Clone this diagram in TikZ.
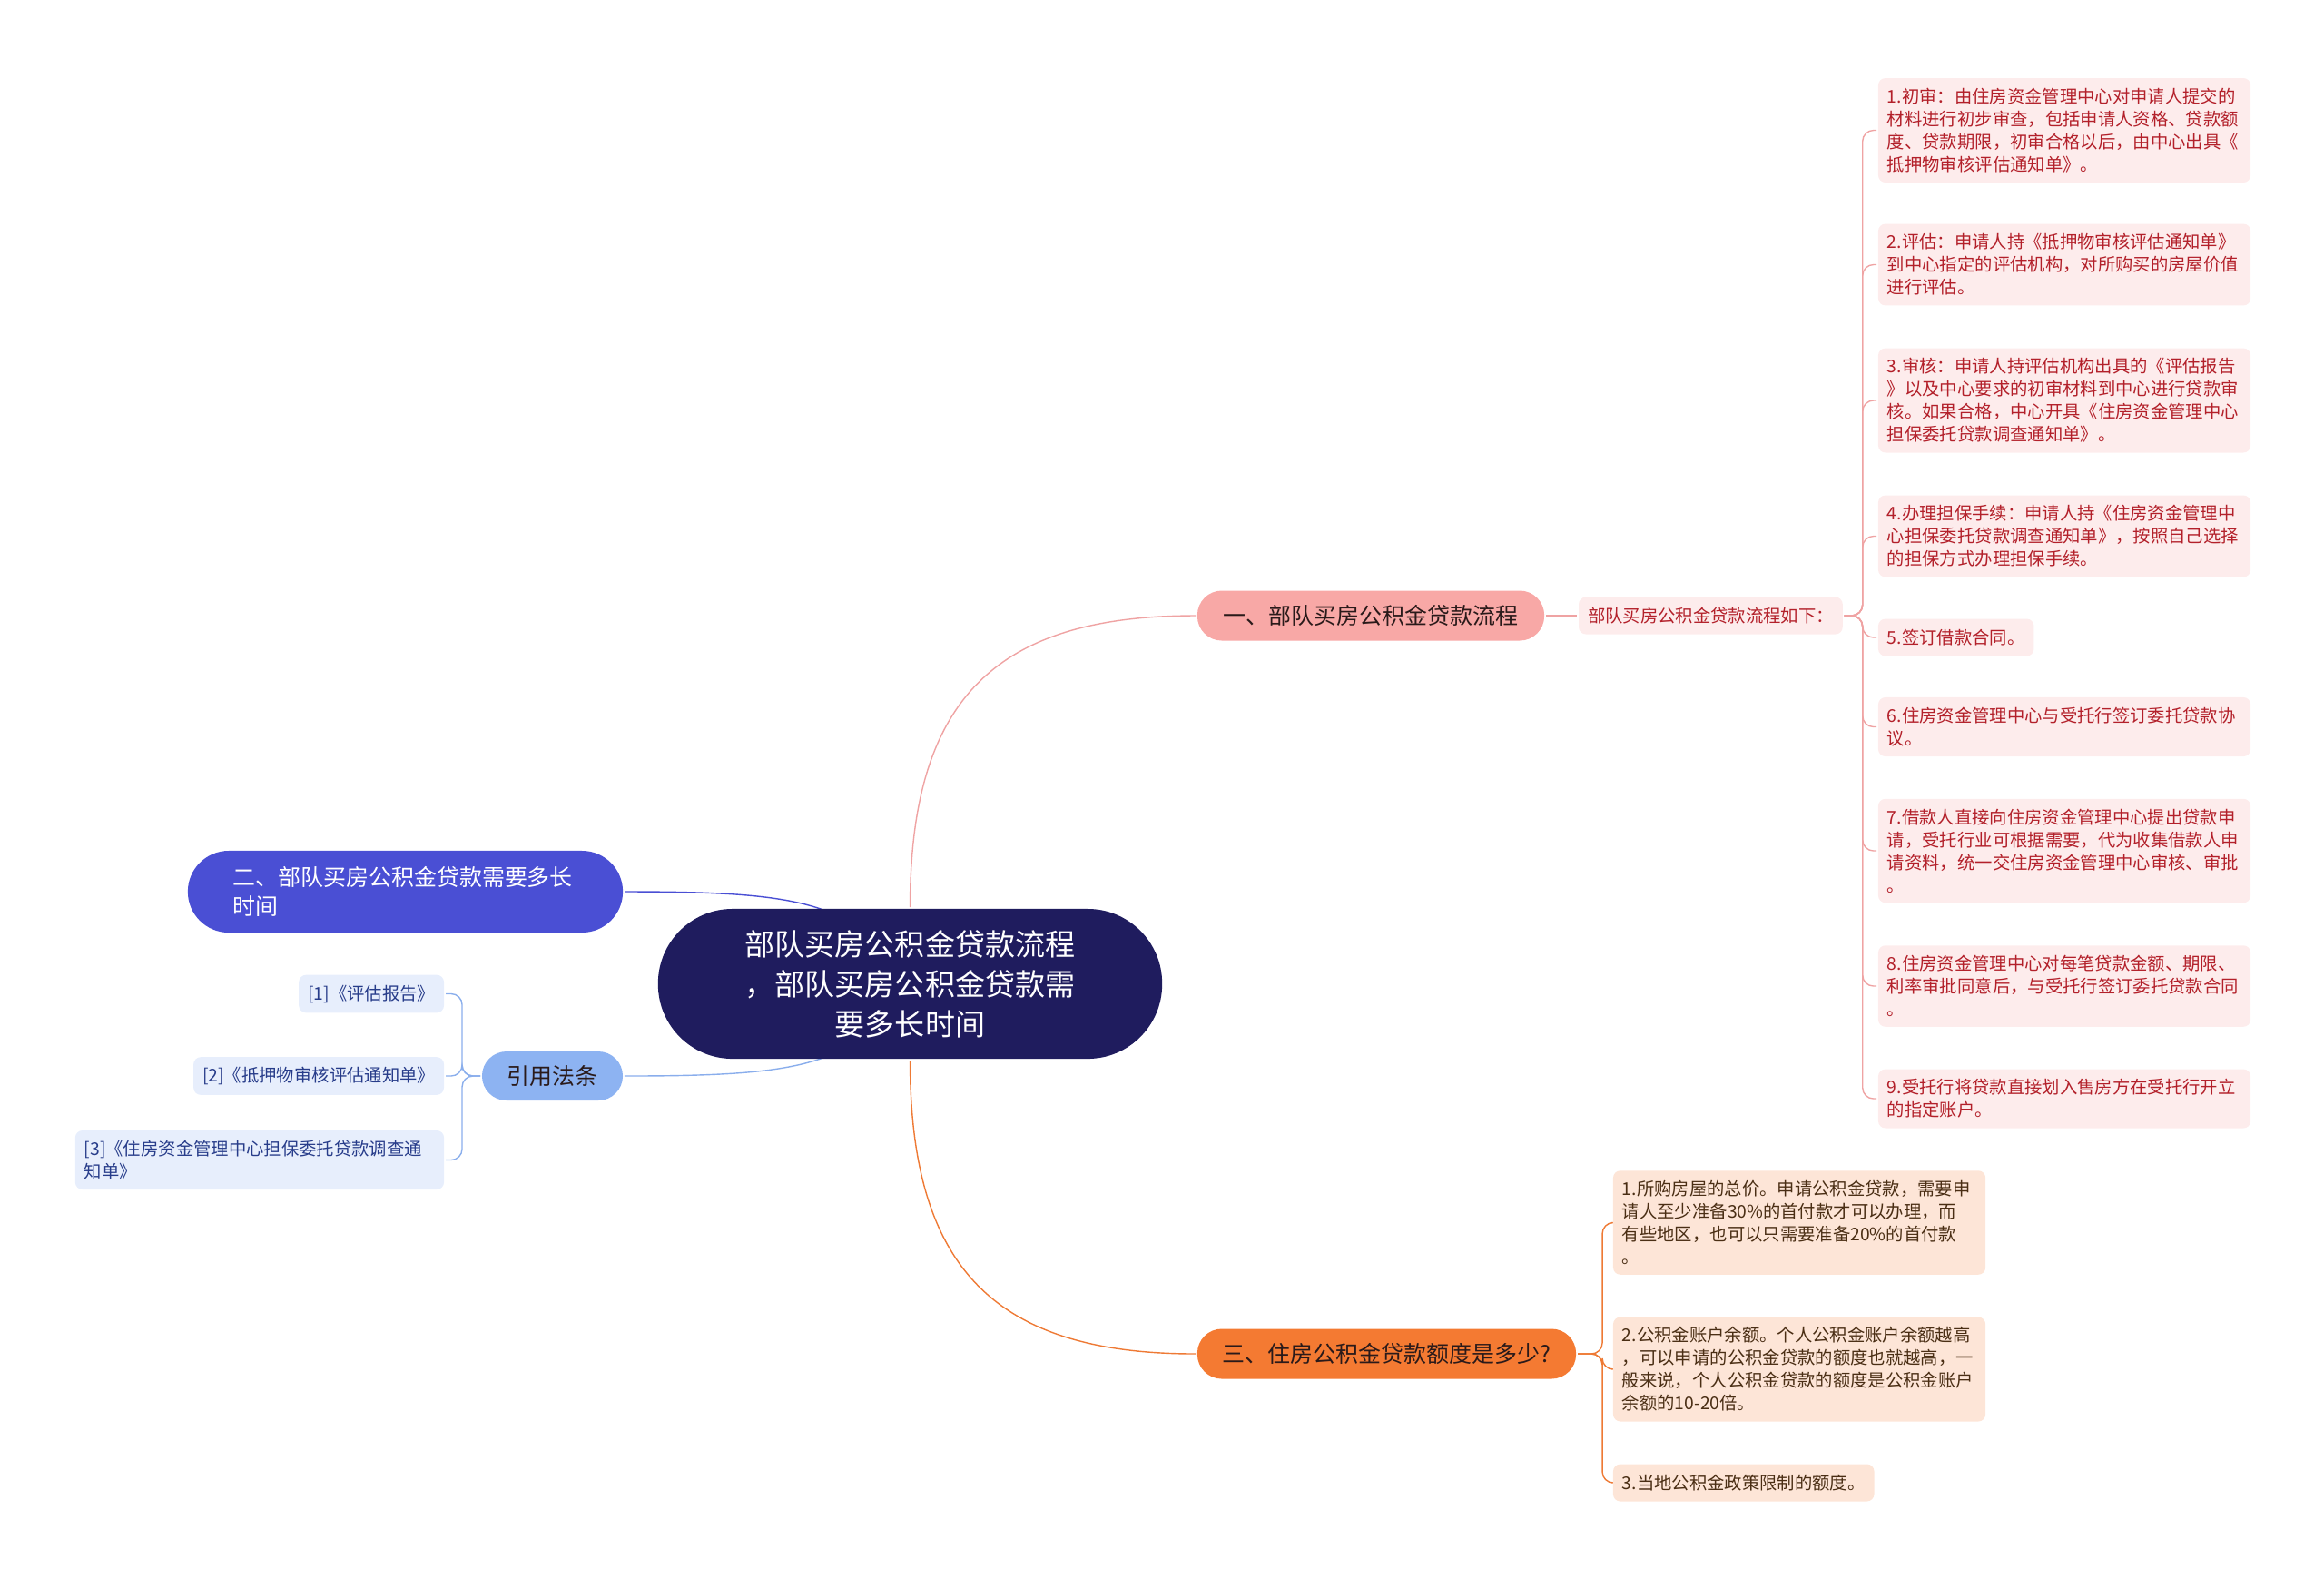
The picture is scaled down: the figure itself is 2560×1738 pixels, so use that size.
\documentclass[tikz,border=0pt]{standalone}
\usepackage{fontspec}
\setmainfont{Noto Sans CJK SC}
\usetikzlibrary{positioning}
\definecolor{navy}{HTML}{1F1C5E}
\definecolor{pinkfill}{HTML}{F8A8A6}
\definecolor{pinkline}{HTML}{EFA3A3}
\definecolor{pinkleaf}{HTML}{FDECEC}
\definecolor{redtext}{HTML}{B3202A}
\definecolor{orangefill}{HTML}{F47A32}
\definecolor{orangeline}{HTML}{EE7A35}
\definecolor{peach}{HTML}{FDE5D7}
\definecolor{browntext}{HTML}{4A2E14}
\definecolor{indigo}{HTML}{4A4FD4}
\definecolor{skyfill}{HTML}{8DB3F2}
\definecolor{skyline}{HTML}{8AAEEC}
\definecolor{iceleaf}{HTML}{E7EEFC}
\definecolor{bluetext}{HTML}{273C8A}
\definecolor{darktext}{HTML}{2A1A1A}
\pgfdeclarelayer{bg}
\pgfsetlayers{bg,main}
\begin{document}
\begin{tikzpicture}[x=0.01cm,y=-0.01cm,line width=1.1pt,
  root/.style={fill=navy,text=white,rounded corners=0.82cm,minimum width=5.55cm,minimum height=1.65cm,inner sep=0pt,align=center,font=\fontsize{9.4}{12.5}\selectfont},
  topic/.style={rounded corners=0.27cm,minimum height=0.55cm,inner sep=0pt,font=\fontsize{7.1}{9.3}\selectfont},
  leaf/.style={rounded corners=0.08cm,inner xsep=0.1cm,inner ysep=0.11cm,align=left,font=\fontsize{5.5}{7.1}\selectfont},
  redleaf/.style={leaf,fill=pinkleaf,text=redtext},
  peachleaf/.style={leaf,fill=peach,text=browntext},
  iceleaf/.style={leaf,fill=iceleaf,text=bluetext},
  wide/.style={text width=3.9cm},
  oneline/.style={minimum height=0.41cm}]
\useasboundingbox (0,0) rectangle (2560,1738);
\node[root] (root) at (1002.5,1083.5) {部队买房公积金贷款流程\\，部队买房公积金贷款需\\要多长时间};
\node[topic,fill=pinkfill,text=darktext,minimum width=3.82cm] (flow) at (1510,678) {一、部队买房公积金贷款流程};
\node[redleaf,oneline,right=0.34cm of flow] (flowsub) {部队买房公积金贷款流程如下：};
\node[redleaf,wide,anchor=west] (fl1) at (2067,143.5) {1.初审：由住房资金管理中心对申请人提交的\\材料进行初步审查，包括申请人资格、贷款额\\度、贷款期限，初审合格以后，由中心出具《\\抵押物审核评估通知单》。};
\node[redleaf,wide,anchor=west] (fl2) at (2067,291.5) {2.评估：申请人持《抵押物审核评估通知单》\\到中心指定的评估机构，对所购买的房屋价值\\进行评估。};
\node[redleaf,wide,anchor=west] (fl3) at (2067,441) {3.审核：申请人持评估机构出具的《评估报告\\》以及中心要求的初审材料到中心进行贷款审\\核。如果合格，中心开具《住房资金管理中心\\担保委托贷款调查通知单》。};
\node[redleaf,wide,anchor=west] (fl4) at (2067,590.5) {4.办理担保手续：申请人持《住房资金管理中\\心担保委托贷款调查通知单》，按照自己选择\\的担保方式办理担保手续。};
\node[redleaf,oneline,anchor=west] (fl5) at (2067,702) {5.签订借款合同。};
\node[redleaf,wide,anchor=west] (fl6) at (2067,800.5) {6.住房资金管理中心与受托行签订委托贷款协\\议。};
\node[redleaf,wide,anchor=west] (fl7) at (2067,937) {7.借款人直接向住房资金管理中心提出贷款申\\请，受托行业可根据需要，代为收集借款人申\\请资料，统一交住房资金管理中心审核、审批\\。};
\node[redleaf,wide,anchor=west] (fl8) at (2067,1086) {8.住房资金管理中心对每笔贷款金额、期限、\\利率审批同意后，与受托行签订委托贷款合同\\。};
\node[redleaf,wide,anchor=west] (fl9) at (2067,1210) {9.受托行将贷款直接划入售房方在受托行开立\\的指定账户。};
\node[topic,fill=orangefill,text=darktext,minimum width=4.17cm] (quota) at (1527.5,1491) {三、住房公积金贷款额度是多少?};
\node[peachleaf,wide,anchor=west] (qt1) at (1775,1346.5) {1.所购房屋的总价。申请公积金贷款，需要申\\请人至少准备30\%的首付款才可以办理，而\\有些地区，也可以只需要准备20\%的首付款\\。};
\node[peachleaf,wide,anchor=west] (qt2) at (1775,1508) {2.公积金账户余额。个人公积金账户余额越高\\，可以申请的公积金贷款的额度也就越高，一\\般来说，个人公积金贷款的额度是公积金账户\\余额的10-20倍。};
\node[peachleaf,oneline,anchor=west] (qt3) at (1775,1633) {3.当地公积金政策限制的额度。};
\node[topic,fill=indigo,text=white,rounded corners=0.45cm,text width=3.8cm,align=left,inner xsep=0.495cm,minimum height=0.9cm] (span) at (446.5,982) {二、部队买房公积金贷款需要多长\\时间};
\node[topic,fill=skyfill,text=darktext,minimum width=1.55cm,minimum height=0.54cm] (laws) at (608.5,1185) {引用法条};
\node[iceleaf,oneline,anchor=east] (ref1) at (491,1094.5) {[1]《评估报告》};
\node[iceleaf,oneline,anchor=east] (ref2) at (491,1185) {[2]《抵押物审核评估通知单》};
\node[iceleaf,text width=3.86cm,anchor=east] (ref3) at (491,1277.5) {[3]《住房资金管理中心担保委托贷款调查通\\知单》};
\begin{pgfonlayer}{bg}
\draw[pinkline] (root.north) .. controls +(0,-230) and +(-220,0) .. (flow.west);
\draw[orangeline] (root.south) .. controls +(0,230) and +(-220,0) .. (quota.west);
\draw[indigo] (root.center) .. controls +(-60,-90) and +(200,0) .. (span.east);
\draw[skyline] (root.center) .. controls +(-60,90) and +(200,0) .. (laws.east);
\draw[pinkline] (flow.east) -- (flowsub.west);
\foreach \n in {1,...,9}
  \draw[pinkline,rounded corners=0.12cm] (flowsub.east) -- ++(20,0) |- (fl\n.west);
\foreach \n in {1,2,3}
  \draw[orangeline,rounded corners=0.12cm] (quota.east) -- ++(27,0) |- (qt\n.west);
\foreach \n in {1,2,3}
  \draw[skyline,rounded corners=0.12cm] (laws.west) -- ++(-20,0) |- (ref\n.east);
\end{pgfonlayer}
\end{tikzpicture}
\end{document}
